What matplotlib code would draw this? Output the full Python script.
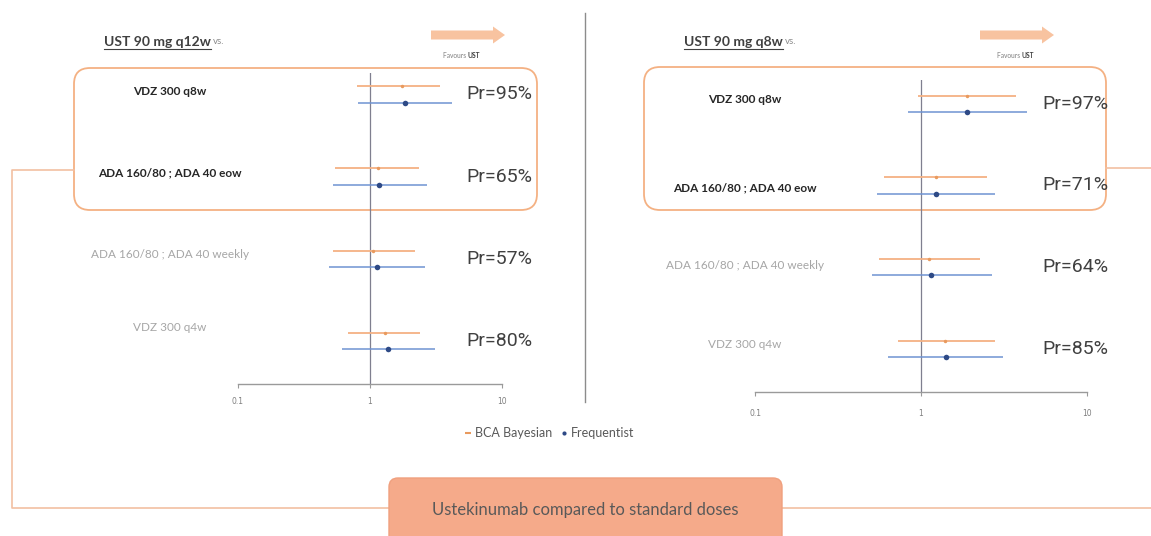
import matplotlib
matplotlib.use("Agg")
import matplotlib.pyplot as plt
from matplotlib.patches import FancyBboxPatch, FancyArrow
from matplotlib.lines import Line2D
from matplotlib.transforms import blended_transform_factory

# comparators (same order in both panels)
comparators = ['VDZ 300 q8w', 'ADA 160/80 ; ADA 40 eow',
               'ADA 160/80 ; ADA 40 weekly', 'VDZ 300 q4w']
highlighted = [True, True, False, False]

# UST 90 mg q12w vs. comparator (odds ratio, 95% interval)
bay_est_q12 = [1.75, 1.15, 1.05, 1.30]
bay_lo_q12 = [0.80, 0.54, 0.52, 0.68]
bay_hi_q12 = [3.39, 2.35, 2.19, 2.39]
freq_est_q12 = [1.84, 1.17, 1.13, 1.37]
freq_lo_q12 = [0.81, 0.52, 0.49, 0.61]
freq_hi_q12 = [4.18, 2.70, 2.61, 3.11]
pr_q12 = [95, 65, 57, 80]

# UST 90 mg q8w vs. comparator
bay_est_q8 = [1.89, 1.23, 1.12, 1.40]
bay_lo_q8 = [0.96, 0.60, 0.56, 0.73]
bay_hi_q8 = [3.73, 2.50, 2.27, 2.79]
freq_est_q8 = [1.89, 1.23, 1.15, 1.42]
freq_lo_q8 = [0.84, 0.54, 0.51, 0.63]
freq_hi_q8 = [4.35, 2.79, 2.68, 3.12]
pr_q8 = [97, 71, 64, 85]

x_ticks = [0.1, 1, 10]
x_ticklabels = ['0.1', '1', '10']

ORANGE = '#F4B183'
ORANGE_PT = '#E89A5E'
BLUE = '#6F93D2'
BLUE_PT = '#2E4A86'
DARK = '#404040'
GREY = '#A6A6A6'

W, H = 1151, 536
fig = plt.figure(figsize=(W / 100, H / 100), dpi=100)

# background layer in pixel units for boxes, connectors and headings
over = fig.add_axes([0, 0, 1, 1], zorder=0)
over.set_xlim(0, W)
over.set_ylim(H, 0)
over.axis('off')


def px_axes(x0, x1, y0, y1):
    return fig.add_axes([x0 / W, 1 - y1 / H, (x1 - x0) / W, (y1 - y0) / H], zorder=2)


panels = [
    dict(ax=px_axes(238, 502, 73, 384), ylim=(3.52, -0.26),
         bay=(bay_est_q12, bay_lo_q12, bay_hi_q12),
         freq=(freq_est_q12, freq_lo_q12, freq_hi_q12), pr=pr_q12,
         title='UST 90 mg q12w', title_x=104, label_x=170,
         label_dy=[-0.04, -0.05, -0.05, -0.17], tickpad=6,
         box=(74, 68, 537, 210), arrow_x=431, fav_x=468),
    dict(ax=px_axes(755, 1087, 80, 392), ylim=(3.53, -0.29),
         bay=(bay_est_q8, bay_lo_q8, bay_hi_q8),
         freq=(freq_est_q8, freq_lo_q8, freq_hi_q8), pr=pr_q8,
         title='UST 90 mg q8w', title_x=684, label_x=745,
         label_dy=[-0.05, 0.03, -0.02, -0.05], tickpad=9,
         box=(644, 67, 1106, 210), arrow_x=980, fav_x=1022),
]

for p in panels:
    ax = p['ax']
    ax.set_facecolor('none')
    rows = list(range(len(comparators)))
    est, lo, hi = p['bay']
    yb = [r - 0.1 for r in rows]
    ax.hlines(yb, lo, hi, color=ORANGE, lw=1.3)
    ax.plot(est, yb, 'o', color=ORANGE_PT, ms=2.5, mew=0)
    est, lo, hi = p['freq']
    yf = [r + 0.1 for r in rows]
    ax.hlines(yf, lo, hi, color=BLUE, lw=1.1)
    ax.plot(est, yf, 'o', color=BLUE_PT, ms=4, mew=0)
    ax.axvline(1, color='#7F7F8F', lw=0.9, zorder=0)

    ax.set_xscale('log')
    ax.set_xlim(0.1, 10)
    ax.set_ylim(*p['ylim'])
    ax.set_xticks(x_ticks)
    ax.set_xticklabels(x_ticklabels)
    ax.minorticks_off()
    ax.set_yticks([])
    for s in ['top', 'left', 'right']:
        ax.spines[s].set_visible(False)
    ax.spines['bottom'].set_color('#9A9A9A')
    ax.spines['bottom'].set_linewidth(1.0)
    ax.tick_params(axis='x', direction='out', length=3, color='#9A9A9A',
                   labelsize=5.5, labelcolor='#7F7F7F', pad=p['tickpad'])

    # probability that UST is better, next to each row
    for r, v in zip(rows, p['pr']):
        ax.text(0.865, r, f'Pr={v}%', transform=ax.get_yaxis_transform(),
                ha='left', va='center', fontsize=14, color=DARK,
                family='Roboto', clip_on=False)

    # comparator names on the left of each row
    tr = blended_transform_factory(over.transData, ax.transData)
    for r, name, hl, dy in zip(rows, comparators, highlighted, p['label_dy']):
        over.text(p['label_x'], r + dy, name, transform=tr, ha='center', va='center',
                  fontsize=8.5, family='Lato',
                  fontweight='bold' if hl else 'normal',
                  color='#262626' if hl else GREY)

    # highlighted block of standard-dose comparators
    x0, y0, x1, y1 = p['box']
    over.add_patch(FancyBboxPatch((x0, y0), x1 - x0, y1 - y0,
                                  boxstyle='round,pad=0,rounding_size=16',
                                  fc='white', ec=ORANGE, lw=1.3, zorder=1))

    # favours arrow
    over.add_patch(FancyArrow(p['arrow_x'], 35, 62, 0, width=9, head_width=17,
                              head_length=12, length_includes_head=False,
                              fc='#F8C3A0', ec='none', zorder=1))
    over.text(p['fav_x'], 55, 'Favours ', ha='right', va='center',
              fontsize=4.8, color='#7F7F7F', family='Lato')
    over.text(p['fav_x'], 55, 'UST', ha='left', va='center', fontsize=4.8,
              color='#404040', family='Lato', fontweight='bold')

    # panel heading with underline
    p['head'] = over.text(p['title_x'], 42, p['title'], ha='left', va='center',
                          fontsize=10, family='Lato', fontweight='bold', color=DARK)

# separator between the two panels
over.plot([585, 585], [13, 402], color='#8C8C8C', lw=1.0)

# connector lines joining both blocks to the caption box
over.plot([74, 12, 12, 389], [170, 170, 508, 508], color='#F2C0A2', lw=1.2, zorder=1)
over.plot([782, W], [508, 508], color='#F2C0A2', lw=1.2, zorder=1)
over.plot([1106, W], [168, 168], color='#F2C0A2', lw=1.2, zorder=1)

over.add_patch(FancyBboxPatch((389, 478), 393, 70,
                              boxstyle='round,pad=0,rounding_size=9',
                              fc='#F5AA8A', ec='#F0A07E', lw=1.0, zorder=2))
over.text(585, 510, 'Ustekinumab compared to standard doses', ha='center',
          va='center', fontsize=12, family='Lato', color='#595959', zorder=3)

# legend
handles = [Line2D([], [], ls='none', marker='_', ms=5, mew=1.5, color=ORANGE_PT),
           Line2D([], [], ls='none', marker='o', ms=3, mew=0, color=BLUE_PT)]
over.legend(handles, ['BCA Bayesian', 'Frequentist'], loc='center',
            bbox_to_anchor=(550, 433), bbox_transform=over.transData, ncol=2,
            frameon=False, handlelength=0.5, handletextpad=0.3, columnspacing=0.7,
            prop={'family': 'Lato', 'size': 9}, labelcolor='#595959')

# underline the headings and add the trailing "vs."
fig.canvas.draw()
inv = over.transData.inverted()
for p in panels:
    bb = p['head'].get_window_extent()
    (xa, ya), (xb, yb_) = inv.transform([[bb.x0, bb.y0], [bb.x1, bb.y1]])
    over.plot([xa, xb], [ya + 1, ya + 1], color=DARK, lw=0.8)
    over.text(xb + 2, 42, 'vs.', ha='left', va='center', fontsize=7,
              family='Lato', color='#8C8C8C')

fig.savefig('out.png', dpi=100)
